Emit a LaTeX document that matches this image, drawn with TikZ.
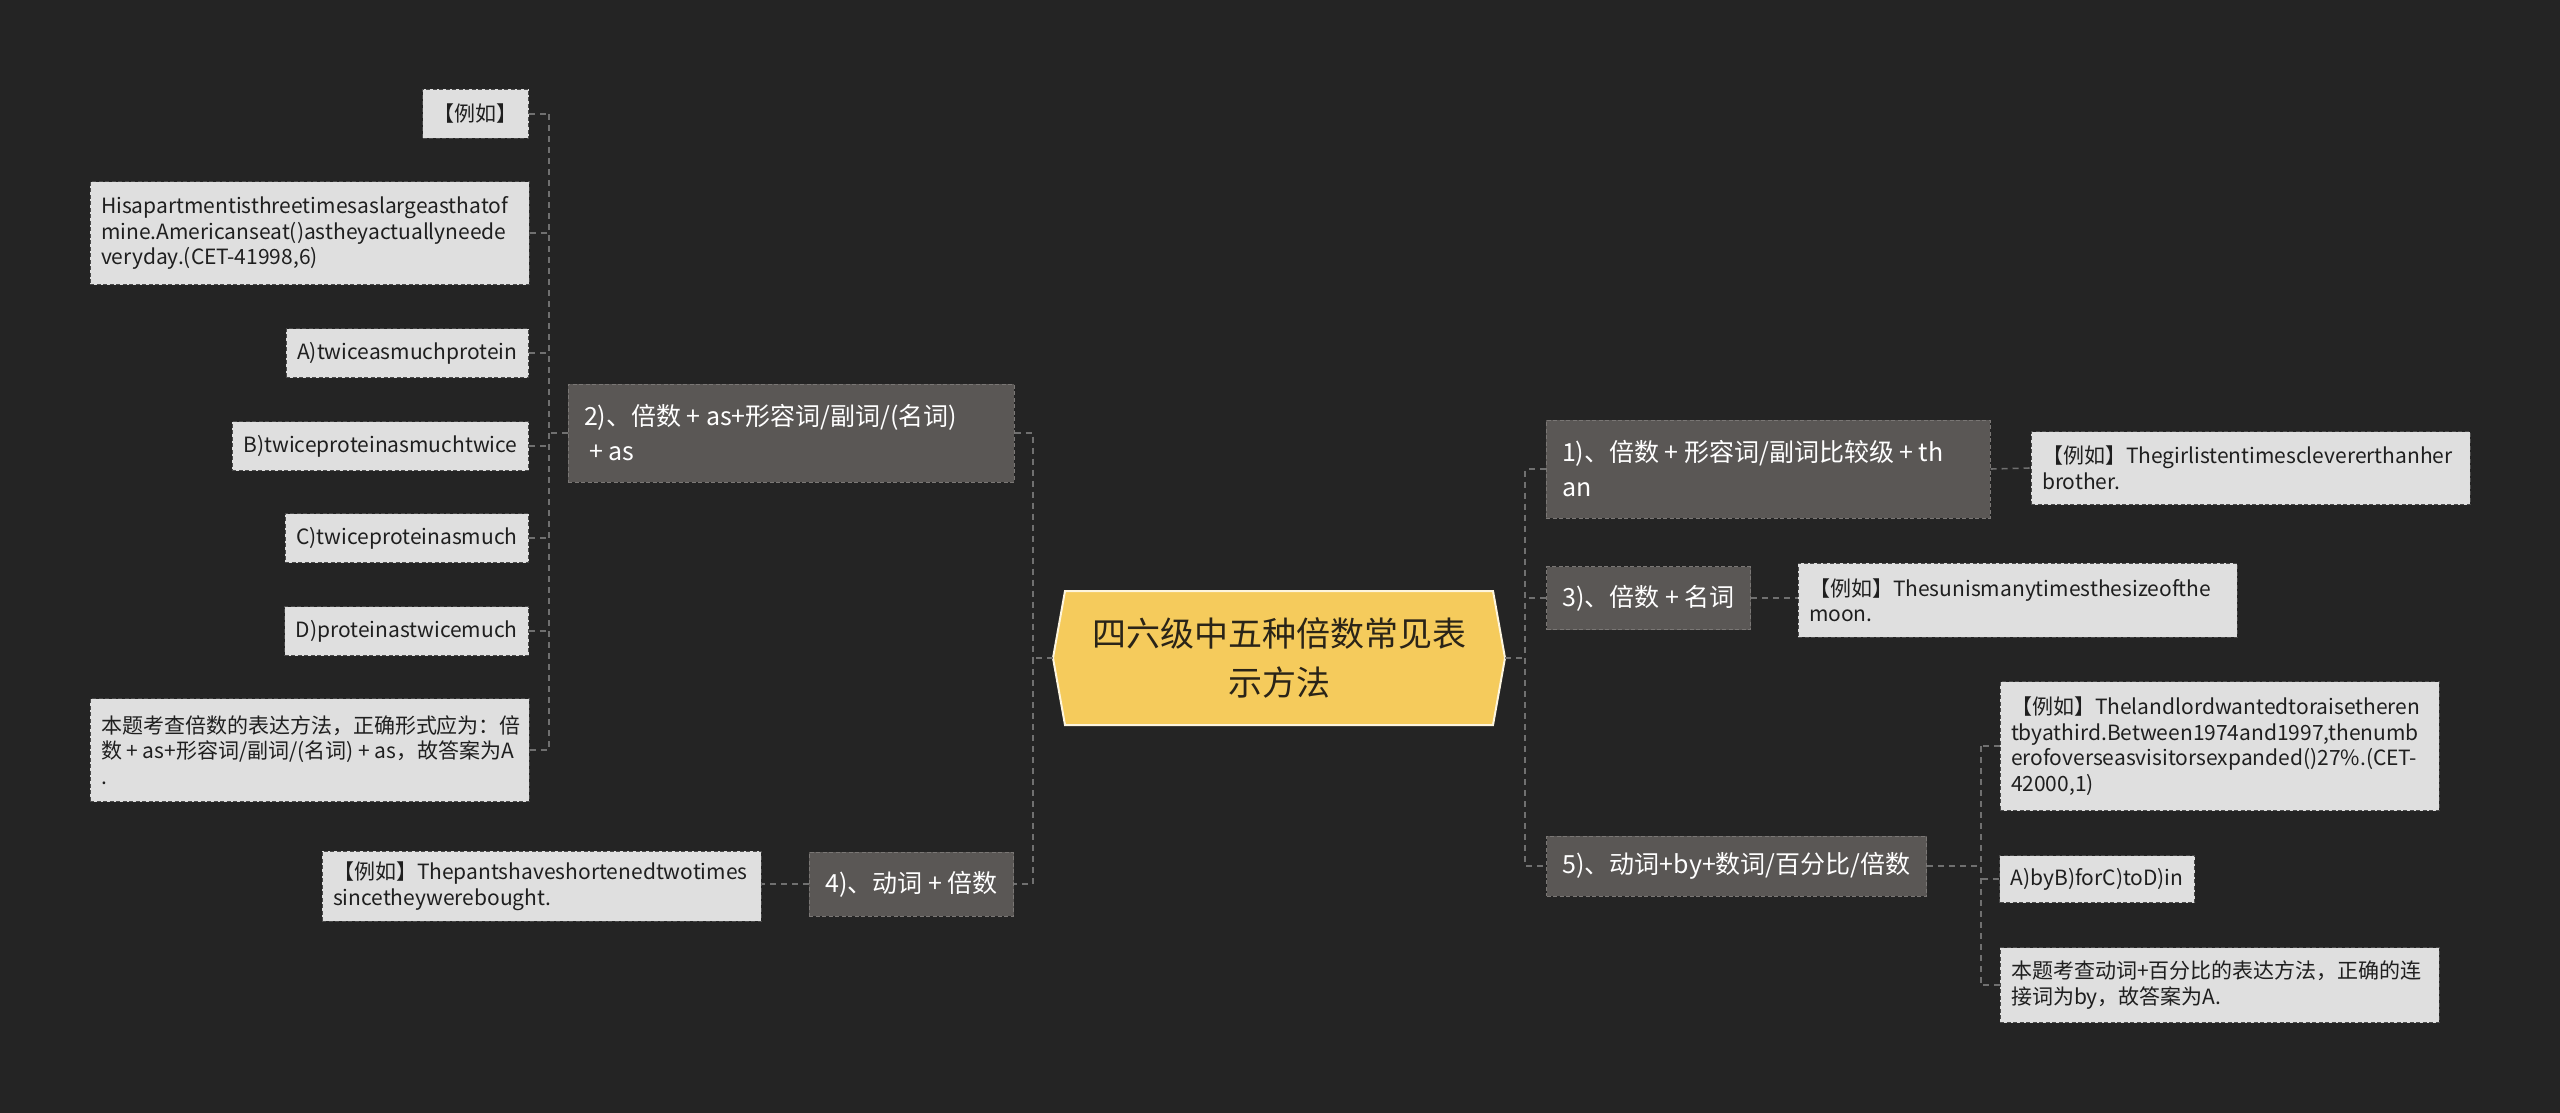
\documentclass[tikz,border=0pt]{standalone}
\usepackage{fontspec}
\setmainfont{Noto Sans CJK SC}
\usetikzlibrary{calc}
\newcommand{\tsp}{\hspace{0.22em}}
\definecolor{bg}{HTML}{242424}
\definecolor{leaffill}{HTML}{DFDFDF}
\definecolor{leafborder}{HTML}{4A4A4A}
\definecolor{brfill}{HTML}{5A5755}
\definecolor{brborder}{HTML}{7A7775}
\definecolor{conncol}{HTML}{707070}
\definecolor{cfill}{HTML}{F5CB5C}
\definecolor{ctext}{HTML}{2A2418}
\tikzset{
  leaf/.style={fill=leaffill, draw=leafborder, line width=1pt, dash pattern=on 4pt off 2.5pt,
    text=black!88, font=\fontsize{21}{25.5}\selectfont, inner xsep=11pt, inner ysep=0pt, align=left},
  mleaf/.style={leaf, text width=417pt, minimum width=439pt},
  branch/.style={fill=brfill, draw=brborder, line width=1pt, dash pattern=on 4pt off 2.5pt,
    text=white, font=\fontsize{25}{35}\selectfont, inner xsep=16pt, inner ysep=0pt, align=left},
  conn/.style={draw=conncol, line width=1.6pt, dash pattern=on 6pt off 5pt}
}
\begin{document}
\begin{tikzpicture}[x=1pt,y=-1pt]
\fill[bg] (0,0) rectangle (2560,1113);
\useasboundingbox (0,0) rectangle (2560,1113);

% central node
\coordinate (cc) at (1279,658);
\fill[cfill] ($(cc)+(-226,0)$) -- ($(cc)+(-214,-67)$) -- ($(cc)+(214,-67)$) -- ($(cc)+(226,0)$) -- ($(cc)+(214,67)$) -- ($(cc)+(-214,67)$) -- cycle;
\draw[white!80!cfill, line width=2pt] ($(cc)+(-226,0)$) -- ($(cc)+(-214,-67)$) -- ($(cc)+(214,-67)$) -- ($(cc)+(226,0)$) -- ($(cc)+(214,67)$) -- ($(cc)+(-214,67)$) -- cycle;
\node[font=\fontsize{34}{49}\selectfont, text=ctext, align=center, minimum width=452pt, minimum height=134pt, inner sep=0pt] (c) at (cc) {四六级中五种倍数常见表\\示方法};

% left branches
\node[branch, text width=414pt, minimum width=446pt, minimum height=98pt] (n2) at (791,433) {2)、倍数\tsp+\tsp as+形容词/副词/(名词)\\\tsp+\tsp as};
\node[branch, minimum height=64pt, anchor=east] (n4) at (1014,884) {4)、动词\tsp+\tsp 倍数};

% left leaves of n2
\node[leaf, minimum height=49pt, anchor=east] (l0) at (529,114) {【例如】};
\node[mleaf, minimum height=103pt] (l1) at (309.5,233) {Hisapartmentisthreetimesaslargeasthatof\\mine.Americanseat()astheyactuallyneede\\veryday.(CET-41998,6)};
\node[leaf, minimum height=49pt, anchor=east] (l2) at (529,353) {A)twiceasmuchprotein};
\node[leaf, minimum height=49pt, anchor=east] (l3) at (529,446) {B)twiceproteinasmuchtwice};
\node[leaf, minimum height=49pt, anchor=east] (l4) at (529,538) {C)twiceproteinasmuch};
\node[leaf, minimum height=49pt, anchor=east] (l5) at (529,631) {D)proteinastwicemuch};
\node[mleaf, minimum height=103pt] (l6) at (309.5,750) {本题考查倍数的表达方法，正确形式应为：倍\\\mbox{数\tsp+\tsp as+形容词/副词/(名词)\tsp+\tsp as，故答案为A}\\.};

% leaf of n4
\node[mleaf, minimum height=70pt] (e4) at (541.5,886) {【例如】Thepantshaveshortenedtwotimes\\sincetheywerebought.};

% right branches
\node[branch, text width=412pt, minimum width=444pt, minimum height=98pt] (n1) at (1768,469) {1)、倍数\tsp+\tsp 形容词/副词比较级\tsp+\tsp th\\an};
\node[branch, minimum height=63pt, anchor=west] (n3) at (1546,598) {3)、倍数\tsp+\tsp 名词};
\node[branch, minimum height=60pt, anchor=west] (n5) at (1546,866) {5)、动词+by+数词/百分比/倍数};

% right leaves
\node[mleaf, minimum height=73pt] (e1) at (2250.5,468) {【例如】Thegirlistentimesclevererthanher\\brother.};
\node[mleaf, minimum height=74pt] (e3) at (2017.5,600) {【例如】Thesunismanytimesthesizeofthe\\moon.};
\node[mleaf, minimum height=129pt] (f1) at (2219.5,746) {【例如】Thelandlordwantedtoraisetheren\\tbyathird.Between1974and1997,thenumb\\erofoverseasvisitorsexpanded()27\%.(CET-\\42000,1)};
\node[leaf, minimum height=47pt, anchor=west] (f2) at (1999,879) {A)byB)forC)toD)in};
\node[mleaf, minimum height=75pt] (f3) at (2219.5,985) {本题考查动词+百分比的表达方法，正确的连\\接词为by，故答案为A.};

% trunk coordinates
\coordinate (tl) at (1033,658);
\coordinate (tr) at (1525,658);
\coordinate (ll) at (549,433);
\coordinate (rr) at (1981,866);

% connectors: centre to branches
\draw[conn] (c.west) -- (tl);
\draw[conn] (n2.east) -| (tl);
\draw[conn] (tl) |- (n4.east);
\draw[conn] (c.east) -- (tr);
\draw[conn] (n1.west) -| (tr);
\draw[conn] (tr) |- (n5.west);
\draw[conn] (n3.west) -- (n3.west -| tr);

% n2 leaves
\draw[conn] (n2.west) -- (ll);
\draw[conn] (l0.east -| ll) -- (l6.east -| ll);
\foreach \n in {l0,l1,l2,l3,l4,l5,l6}{\draw[conn] (\n.east) -- (\n.east -| ll);}

% n4 leaf
\draw[conn] (n4.west) -- (n4.west -| e4.east);

% n1, n3 leaves
\draw[conn] (n1.east) -- (e1.west);
\draw[conn] (n3.east) -- (n3.east -| e3.west);

% n5 leaves
\draw[conn] (n5.east) -- (rr);
\draw[conn] (f1.west -| rr) -- (f3.west -| rr);
\foreach \n in {f1,f2,f3}{\draw[conn] (\n.west) -- (\n.west -| rr);}
\end{tikzpicture}
\end{document}
